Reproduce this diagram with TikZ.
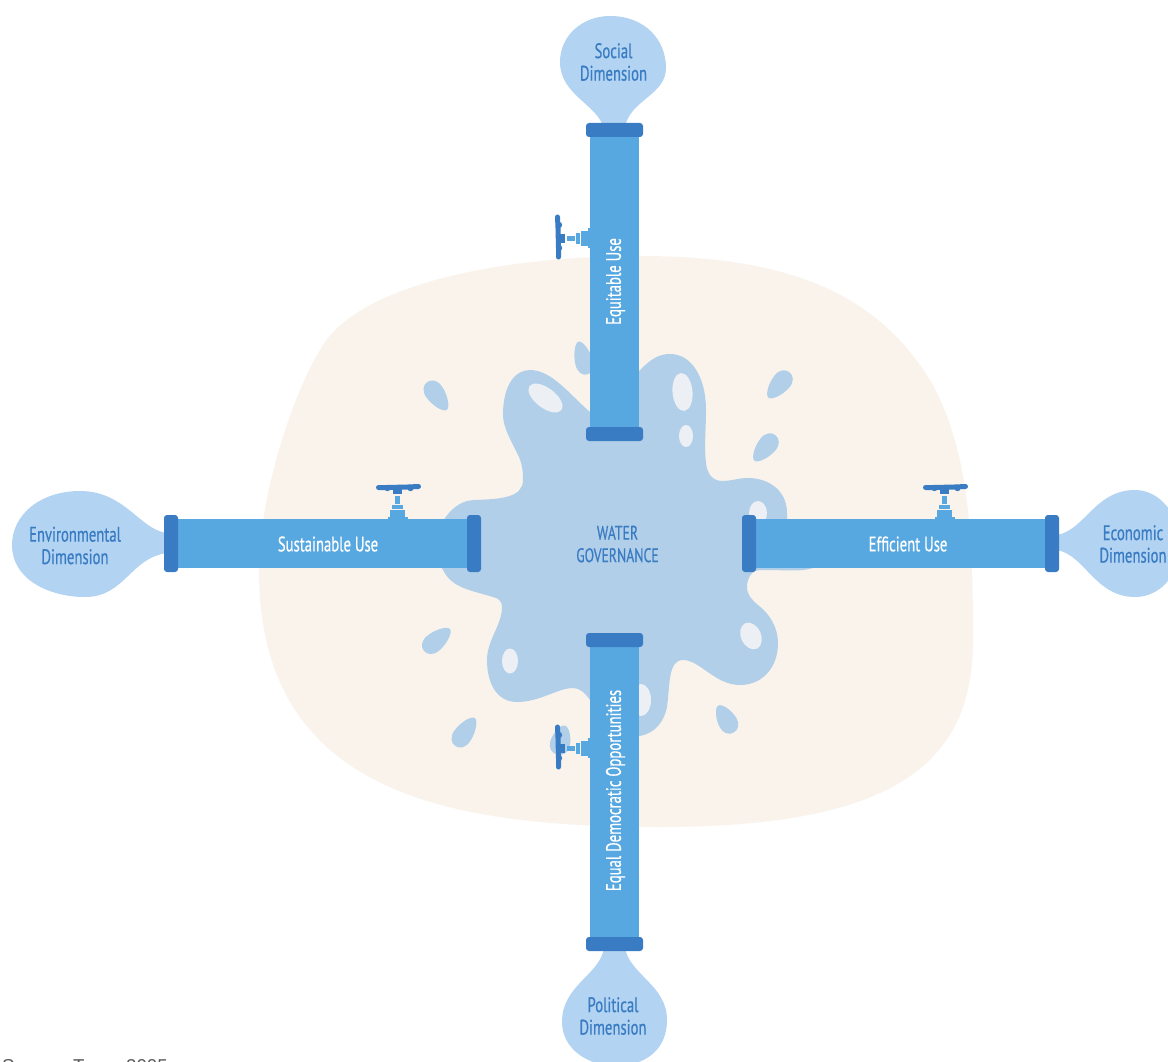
\documentclass[tikz,border=0pt]{standalone}
\usepackage{fontspec}
\setmainfont{Liberation Sans}
\newfontfamily\cond[FakeStretch=0.7,FakeBold=0.5]{PT Sans}
\definecolor{beige}{HTML}{F9F3EC}
\definecolor{puddle}{HTML}{B1CFE8}
\definecolor{shine}{HTML}{ECEFF4}
\definecolor{bubble}{HTML}{B2D3F1}
\definecolor{pipe}{HTML}{57A8E0}
\definecolor{flange}{HTML}{3A7CC3}
\tikzset{
  pipebody/.style={fill=pipe,draw=none},
  flangebar/.style={fill=flange,draw=none,rounded corners=3pt},
  bubblefill/.style={fill=bubble,draw=none},
  shinefill/.style={fill=shine,draw=none},
  pipelabel/.style={text=white,font=\cond\fontsize{21}{22}\selectfont,inner sep=0pt},
  bluelabel/.style={text=flange,font=\cond\fontsize{21}{22.5}\selectfont,align=center,inner sep=0pt},
  pics/valve/.style={code={
    \fill[pipe] (-10,1) rectangle (10,-2);
    \fill[pipe] (-7.5,-2) rectangle (7.5,-9);
    \fill[pipe] (-5.5,-10.5) rectangle (5.5,-14);
    \fill[pipe] (-2.5,-15) rectangle (2.5,-23);
    \fill[flange] (-4.5,-25) rectangle (4.5,-30);
    \draw[flange,line width=5pt,line cap=round] (-19,-31.5) -- (-10,-31.5) -- (10,-32) -- (21,-32.5);
    \foreach \u in {-10,0,13} \fill[flange] (\u,-31) circle (3.2);
  }}
}
\newcommand{\wdrop}[5]{\fill[puddle,shift={(#1,#2)},rotate=#3,xscale=#4,yscale=#5]
  (0,-1) .. controls (.45,-1) and (1,-.3) .. (1,.3)
  .. controls (1,.75) and (.55,1) .. (0,1)
  .. controls (-.55,1) and (-1,.75) .. (-1,.3)
  .. controls (-1,-.3) and (-.45,-1) .. (0,-1) -- cycle;}
\begin{document}
\begin{tikzpicture}[x=1pt,y=-1pt]
\useasboundingbox[fill=white] (0,0) rectangle (1168,1062);
% background blob
\fill[beige] (640,256) .. controls (800,256) and (880,300) .. (930,380)
  .. controls (970,450) and (973,540) .. (973,640)
  .. controls (973,760) and (900,827) .. (660,827)
  .. controls (440,827) and (259,790) .. (259,570)
  .. controls (259,500) and (290,400) .. (320,350)
  .. controls (355,285) and (500,256) .. (640,256) -- cycle;
% droplets
\wdrop{437}{396}{215}{9.5}{17}
\wdrop{779}{385}{140}{9.5}{16.5}
\wdrop{765}{448}{140}{9.5}{16.5}
\wdrop{437}{640}{-50}{9.5}{17}
\wdrop{465}{732}{-35}{9.5}{17}
\wdrop{726}{719}{30}{9.5}{15.5}
\wdrop{583}{358}{15}{9}{17}
\wdrop{561}{740}{-15}{10}{15}
% puddle
\fill[puddle] (503,415) .. controls (503,385) and (515,370) .. (530,370)
  .. controls (552,370) and (570,395) .. (590,412)
  .. controls (600,420) and (620,390) .. (640,370)
  .. controls (650,360) and (658,354) .. (670,354)
  .. controls (692,354) and (706,378) .. (706,410)
  .. controls (706,430) and (704,445) .. (706,463)
  .. controls (707,473) and (712,481) .. (722,481)
  .. controls (732,481) and (738,478) .. (748,478)
  .. controls (768,478) and (787,490) .. (787,513)
  .. controls (787,540) and (800,567) .. (815,567)
  .. controls (805,572) and (790,570) .. (760,570)
  .. controls (752,570) and (747,578) .. (747,587)
  .. controls (747,595) and (752,600) .. (758,605)
  .. controls (770,614) and (778,628) .. (778,643)
  .. controls (778,668) and (762,685) .. (740,685)
  .. controls (715,685) and (700,660) .. (683,660)
  .. controls (668,660) and (670,685) .. (667,707)
  .. controls (664,722) and (655,733) .. (640,736)
  .. controls (620,740) and (600,720) .. (590,700)
  .. controls (585,693) and (580,688) .. (573,688)
  .. controls (558,688) and (540,702) .. (517,702)
  .. controls (498,702) and (487,685) .. (487,660)
  .. controls (487,640) and (502,625) .. (502,607)
  .. controls (502,601) and (498,598) .. (493,597)
  .. controls (470,590) and (452,588) .. (443,570)
  .. controls (438,562) and (435,555) .. (435,545)
  .. controls (435,533) and (438,525) .. (445,518)
  .. controls (452,508) and (462,500) .. (475,500)
  .. controls (500,499) and (523,498) .. (523,480)
  .. controls (523,470) and (522,462) .. (517,453)
  .. controls (512,442) and (503,428) .. (503,415) -- cycle;
% highlights
\fill[shinefill] (545.5,398) ellipse[x radius=20,y radius=10,rotate=-37];
\fill[shinefill] (682.5,392) ellipse[x radius=10,y radius=19,rotate=5];
\fill[shinefill] (686,436) ellipse[x radius=7,y radius=11];
\fill[shinefill] (758,513) ellipse[x radius=9,y radius=12];
\fill[shinefill] (751,636) ellipse[x radius=10,y radius=14,rotate=25];
\fill[shinefill] (510,661) ellipse[x radius=8,y radius=12.5];
\fill[shinefill] (641,700) ellipse[x radius=10,y radius=16];
% end bubbles
\fill[bubblefill] (603,127) .. controls (598,105) and (560,95) .. (560,62)
  .. controls (560,35) and (583,16) .. (610,16)
  .. controls (645,16) and (666,40) .. (666,68)
  .. controls (666,95) and (630,100) .. (625,127) -- cycle;
\fill[bubblefill] (604,948) .. controls (600,975) and (562,985) .. (562,1022)
  .. controls (562,1050) and (590,1066) .. (615,1066)
  .. controls (645,1066) and (667,1050) .. (667,1020)
  .. controls (667,985) and (630,975) .. (625,948) -- cycle;
\fill[bubblefill] (167,533) .. controls (140,530) and (125,491) .. (80,491)
  .. controls (40,491) and (12,515) .. (12,545)
  .. controls (12,580) and (50,597) .. (85,597)
  .. controls (125,597) and (130,558) .. (167,553) -- cycle;
\fill[bubblefill] (1057,535) .. controls (1085,530) and (1095,490) .. (1135,490)
  .. controls (1160,490) and (1180,515) .. (1180,545)
  .. controls (1180,575) and (1160,597) .. (1135,597)
  .. controls (1095,597) and (1085,555) .. (1057,550) -- cycle;
% pipes
\fill[pipebody] (590,130) rectangle (639,434);
\fill[pipebody] (590,640) rectangle (639,944);
\fill[pipebody] (171,519) rectangle (474,568);
\fill[pipebody] (749,519) rectangle (1052,568);
\fill[flangebar] (586,123) rectangle (643,137);
\fill[flangebar] (586,427) rectangle (643,441);
\fill[flangebar] (586,633) rectangle (643,647);
\fill[flangebar] (586,937) rectangle (643,951);
\fill[flangebar] (164,515) rectangle (178,572);
\fill[flangebar] (467,515) rectangle (481,572);
\fill[flangebar] (742,515) rectangle (756,572);
\fill[flangebar] (1045,515) rectangle (1059,572);
% valves
\pic at (397.5,519) {valve};
\pic at (944.5,519) {valve};
\pic[rotate=90] at (590,238) {valve};
\pic[rotate=90] at (590,748) {valve};
% labels
\node[pipelabel,rotate=90] (equitable) at (615.5,281.5) {Equitable Use};
\node[pipelabel,rotate=90] (democratic) at (615.5,790.5) {Equal Democratic Opportunities};
\node[pipelabel] (sustainable) at (328,544) {Sustainable Use};
\node[pipelabel] (efficient) at (908,544) {Efficient Use};
\node[bluelabel,font=\cond\fontsize{19.6}{22.5}\selectfont] (water) at (617.5,544) {WATER\\GOVERNANCE};
\node[bluelabel] (social) at (613.5,62) {Social\\Dimension};
\node[bluelabel] (political) at (613,1016) {Political\\Dimension};
\node[bluelabel] (environmental) at (75,545.5) {Environmental\\Dimension};
\node[bluelabel] (economic) at (1133,544) {Economic\\Dimension};
\node[anchor=base west,inner sep=0pt,text=black!65,font=\fontsize{18.6}{22}\selectfont] (source) at (2,1072) {Source: Tropp 2005};
\end{tikzpicture}
\end{document}
